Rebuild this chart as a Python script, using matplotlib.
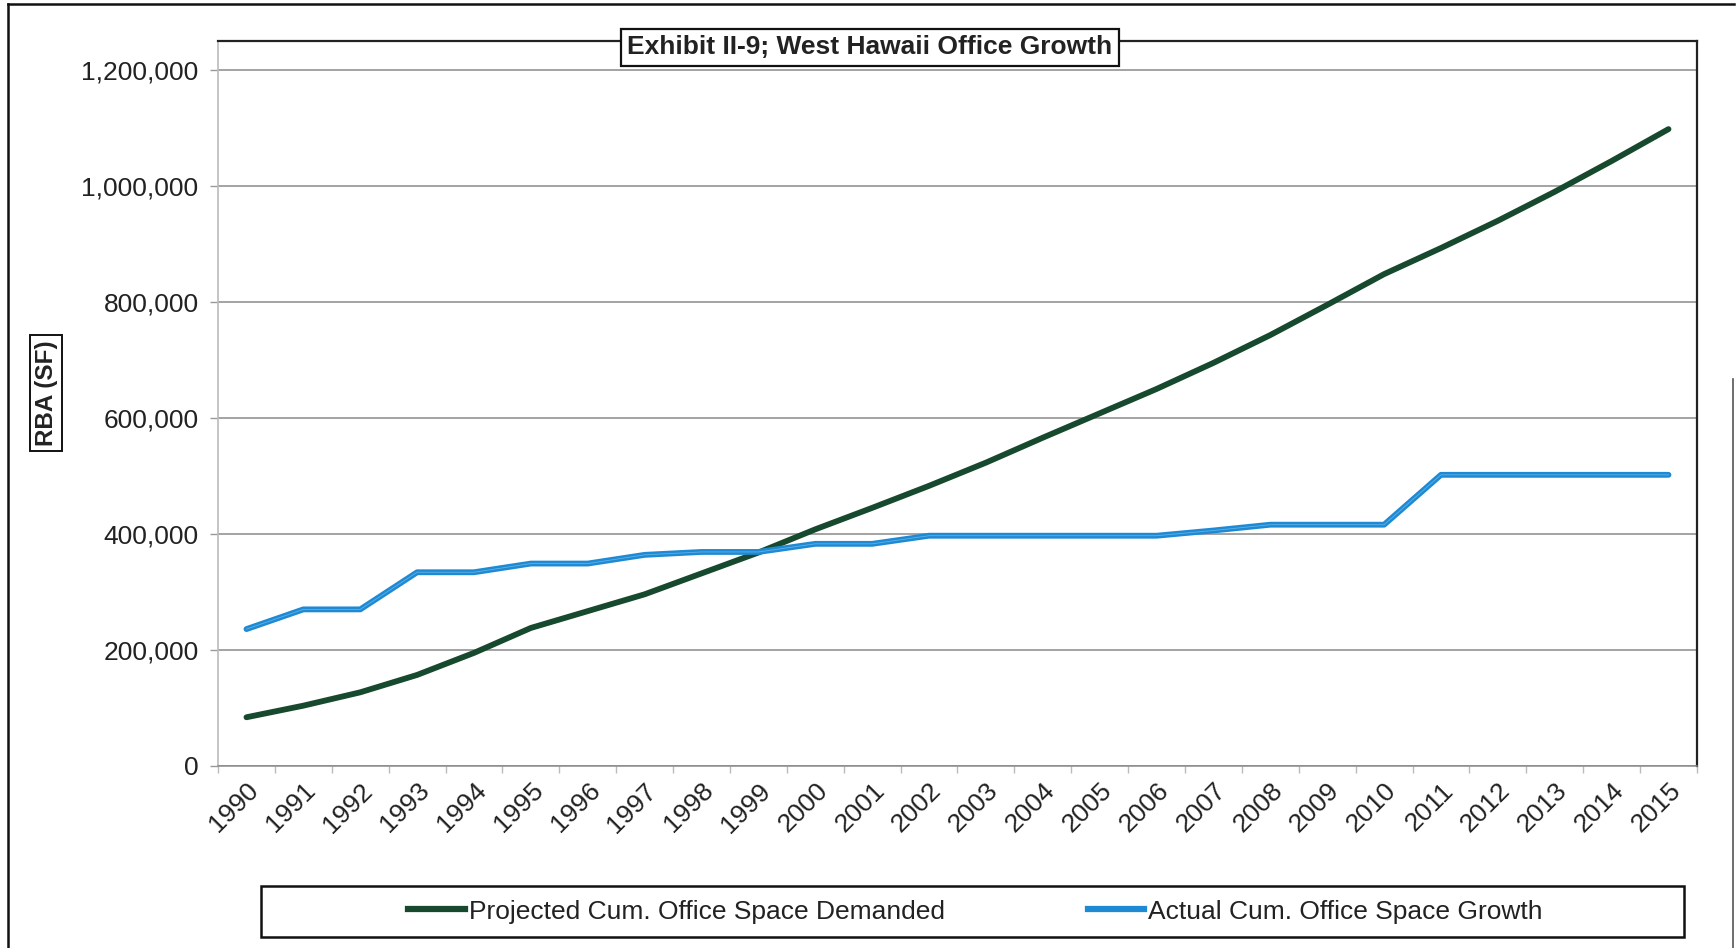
import numpy as np
import matplotlib
matplotlib.use("Agg")
import matplotlib.pyplot as plt
from matplotlib.patches import Rectangle
from matplotlib.lines import Line2D
from matplotlib.ticker import FuncFormatter

plt.rcParams['font.family'] = ['Liberation Sans', 'DejaVu Sans']

years = [str(y) for y in range(1990, 2016)]
projected = [84000, 104000, 127000, 157000, 195000, 238000, 267000, 296000,
             332000, 368000, 408000, 445000, 483000, 523000, 566000, 608000,
             650000, 695000, 743000, 795000, 848000, 893000, 940000, 990000,
             1043000, 1098000]
actual = [236000, 270000, 270000, 334000, 334000, 349000, 349000, 364000,
          369000, 369000, 383000, 383000, 397000, 397000, 397000, 397000,
          397000, 406000, 416000, 416000, 416000, 502000, 502000, 502000,
          502000, 502000]

green = '#17492f'
blue = '#1f8ad4'

fig = plt.figure(figsize=(17.36, 9.48), dpi=100)
ax = fig.add_axes([0.1256, 0.1920, 0.8519, 0.7648])

x = np.arange(len(years))
ax.plot(x, projected, color=green, lw=4.2, solid_capstyle='round', zorder=3)
ax.plot(x, actual, color=blue, lw=4.2, solid_capstyle='round', zorder=3)
ax.plot(x, actual, color='#5fb2e8', lw=0.6, zorder=4)

ax.set_xlim(-0.5, len(years) - 0.5)
ax.set_ylim(0, 1250000)
ax.set_yticks(np.arange(0, 1200001, 200000))
ax.yaxis.set_major_formatter(FuncFormatter(lambda v, p: f'{int(v):,}'))
ax.grid(axis='y', color='#8a8a8a', lw=1.1)
ax.set_axisbelow(True)

ax.set_xticks(x)
ax.set_xticklabels(years, rotation=45, ha='right', va='top',
                   rotation_mode='anchor', fontsize=19, color='#222222')
ax.set_xticks(np.arange(-0.5, len(years), 1), minor=True)
ax.tick_params(axis='x', which='major', length=0, pad=9)
ax.tick_params(axis='x', which='minor', length=5, color='#bbbbbb', width=1)
ax.tick_params(axis='y', length=6, color='#999999', width=1, pad=8,
               labelsize=19, labelcolor='#222222')

for s in ['top', 'right']:
    ax.spines[s].set_color('#222222')
    ax.spines[s].set_linewidth(1.6)
ax.spines['left'].set_color('#bbbbbb')
ax.spines['left'].set_linewidth(1.2)
ax.spines['bottom'].set_color('#8a8a8a')
ax.spines['bottom'].set_linewidth(1.1)

# title in a box over the top border
fig.text(0.501, 0.950, 'Exhibit II-9; West Hawaii Office Growth',
         ha='center', va='center', fontsize=19, fontweight='bold', color='#222222',
         bbox=dict(boxstyle='square,pad=0.25', fc='white', ec='#111111', lw=1.6),
         zorder=10)

# boxed y label
fig.text(0.0265, 0.5854, 'RBA (SF)', rotation=90, ha='center', va='center',
         fontsize=17.5, fontweight='bold', color='#222222',
         bbox=dict(boxstyle='square,pad=0.2', fc='white', ec='#111111', lw=1.4))

# legend box
fig.add_artist(Rectangle((0.1503, 0.0116), 0.8197, 0.0538, transform=fig.transFigure,
                         fill=False, ec='#111111', lw=1.8))
handles = [Line2D([], [], color=green, lw=4.5), Line2D([], [], color=blue, lw=4.5)]
fig.legend(handles, ['Projected Cum. Office Space Demanded', 'Actual Cum. Office Space Growth'],
           loc='center', bbox_to_anchor=(0.562, 0.0385), ncol=2, frameon=False,
           fontsize=19, handlelength=2.15, handletextpad=0.15, columnspacing=5.4,
           labelcolor='#222222')

# outer chart border
fig.add_artist(Line2D([0.0045, 0.0045], [0.0, 0.996], transform=fig.transFigure,
                      color='#111111', lw=1.8))
fig.add_artist(Line2D([0.0045, 0.999], [0.996, 0.996], transform=fig.transFigure,
                      color='#111111', lw=1.8))
fig.add_artist(Line2D([0.998, 0.998], [0.0, 0.6], transform=fig.transFigure,
                      color='#555555', lw=1.2))

fig.savefig('out.png', dpi=100, facecolor='white')
